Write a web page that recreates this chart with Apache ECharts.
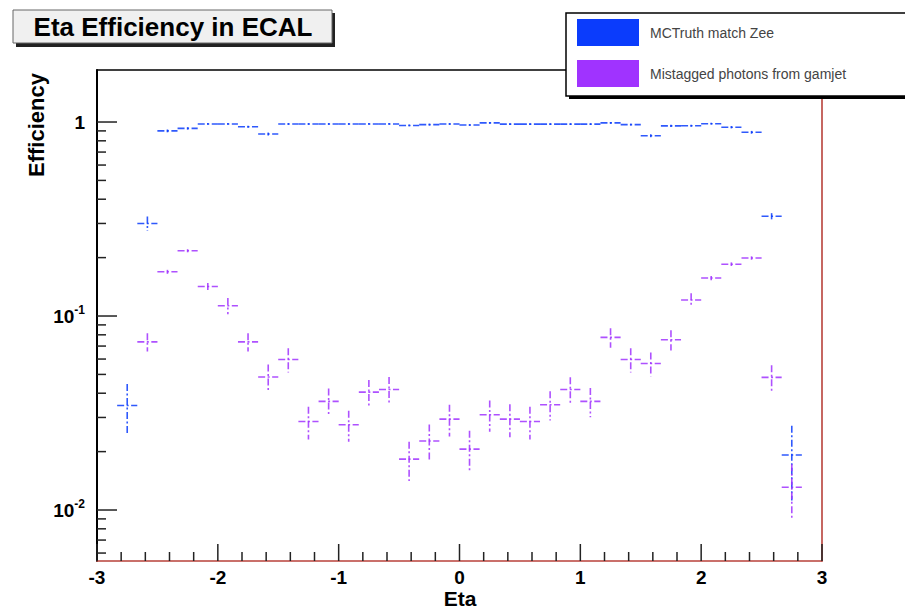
<!DOCTYPE html>
<html><head><meta charset="utf-8">
<script src="https://cdn.jsdelivr.net/npm/echarts@6/dist/echarts.min.js"></script>
<style>html,body{margin:0;padding:0;background:#fff}#c{width:905px;height:610px}</style>
</head><body><div id="c"></div>
<script>
// ---- data (bin centres in eta, bin width 1/6) ----
const etaCenters = [-2.75,-2.583,-2.417,-2.25,-2.083,-1.917,-1.75,-1.583,-1.417,-1.25,-1.083,-0.917,-0.75,-0.583,-0.417,-0.25,-0.083,
  0.083,0.25,0.417,0.583,0.75,0.917,1.083,1.25,1.417,1.583,1.75,1.917,2.083,2.25,2.417,2.583,2.75];
const binHalfWidth = 0.0833;
const mcTruthEff = [0.0346,0.30,0.90,0.927,0.977,0.977,0.945,0.867,0.977,0.977,0.977,0.977,0.977,0.977,0.96,0.97,0.977,
  0.965,0.99,0.975,0.975,0.975,0.975,0.975,0.99,0.97,0.85,0.955,0.957,0.98,0.94,0.885,0.327,0.0192];
const mcTruthErr = [0.010,0.026,0.015,0.013,0.010,0.010,0.012,0.015,0.010,0.010,0.010,0.010,0.010,0.010,0.010,0.010,0.010,
  0.010,0.010,0.010,0.010,0.010,0.010,0.010,0.010,0.010,0.015,0.012,0.012,0.010,0.013,0.015,0.012,0.008];
const gamjetEff = [null,0.0736,0.169,0.217,0.142,0.113,0.0736,0.0485,0.0597,0.0286,0.0363,0.0275,0.0405,0.0418,0.0183,0.0227,0.0294,
  0.0206,0.031,0.0294,0.0286,0.0349,0.0418,0.0363,0.0776,0.0597,0.0569,0.0754,0.121,0.157,0.185,0.199,0.0483,0.0131];
const gamjetErr = [null,0.008,0.004,0.004,0.006,0.011,0.008,0.0078,0.0085,0.0055,0.006,0.005,0.0063,0.0067,0.0042,0.0049,0.0055,
  0.005,0.0057,0.0057,0.0055,0.006,0.0065,0.0062,0.009,0.0085,0.008,0.009,0.010,0.004,0.004,0.004,0.0075,0.0041];
const seriesNames = ['MCTruth match Zee','Mistagged photons from gamjet'];
const seriesColors = ['#0b3cfc','#a033ff'];
const xMajorTicks = [-3,-2,-1,0,1,2,3];
const xMinorTicks = [-2.8,-2.6,-2.4,-2.2,-1.8,-1.6,-1.4,-1.2,-0.8,-0.6,-0.4,-0.2,0.2,0.4,0.6,0.8,1.2,1.4,1.6,1.8,2.2,2.4,2.6,2.8];
const yMajorTicks = [0.01,0.1,1];
const yMinorTicks = [0.006,0.007,0.008,0.009,0.02,0.03,0.04,0.05,0.06,0.07,0.08,0.09,0.2,0.3,0.4,0.5,0.6,0.7,0.8,0.9];
const xMin = -3, xMax = 3;
const yMin = 0.00546, yMax = 1.854;
const FONT = 'Liberation Sans, Arial, Helvetica, sans-serif';

function toData(eff, err){
  const out = [];
  etaCenters.forEach((e,i)=>{ if(eff[i]!=null) out.push([e, eff[i], err[i]]); });
  return out;
}
function makeRender(color){
  return function(params, api){
    const x = api.value(0), y = api.value(1), e = api.value(2);
    const c = api.coord([x, y]);
    const l = api.coord([x - binHalfWidth, y]);
    const r = api.coord([x + binHalfWidth, y]);
    const t = api.coord([x, y + e]);
    const b = api.coord([x, Math.max(y - e, yMin)]);
    const st = {stroke: color, lineWidth: 1.6, opacity: 0.85, lineDash:[7,2.5,2,2.5]};
    return {type:'group', children:[
      {type:'line', shape:{x1:l[0], y1:c[1], x2:r[0], y2:c[1]}, style:st},
      {type:'line', shape:{x1:c[0], y1:t[1], x2:c[0], y2:b[1]}, style:st}
    ]};
  };
}
// tick marks (decoration) placed through the axes' own scales
const tickData = [];
xMajorTicks.forEach(v=>tickData.push([v, yMin, 0, 17]));
xMinorTicks.forEach(v=>tickData.push([v, yMin, 0, 9]));
yMajorTicks.forEach(v=>tickData.push([xMin, v, 1, 20]));
yMinorTicks.forEach(v=>tickData.push([xMin, v, 1, 9]));
function renderTick(params, api){
  const p = api.coord([api.value(0), api.value(1)]);
  const kind = api.value(2), len = api.value(3);
  const shape = kind === 0 ? {x1:p[0], y1:p[1], x2:p[0], y2:p[1]-len} : {x1:p[0], y1:p[1], x2:p[0]+len, y2:p[1]};
  return {type:'line', shape:shape, style:{stroke:'#222', lineWidth:1.5}};
}

const chart = echarts.init(document.getElementById('c'), null, {renderer:'svg'});
chart.setOption({
  backgroundColor:'#fff',
  animation:false,
  grid:{left:97, right:83, top:70, bottom:49, containLabel:false, outerBoundsMode:'none'},
  legend:{
    orient:'vertical', left:577, top:19, itemWidth:62, itemHeight:27, itemGap:14, padding:0, z:20,
    icon:'rect', selectedMode:false,
    data:seriesNames,
    textStyle:{fontFamily:FONT, fontSize:14, color:'#444', padding:[0,0,0,6]}
  },
  xAxis:[{
    type:'value', min:xMin, max:xMax, interval:1, position:'bottom',
    axisLine:{onZero:false, lineStyle:{color:'#b8413a', width:1.6}},
    axisTick:{show:false},
    splitLine:{show:false},
    axisLabel:{margin:7, fontFamily:FONT, fontWeight:'bold', fontSize:19, color:'#000',
      showMinLabel:true, showMaxLabel:true}
  },{
    type:'value', min:xMin, max:xMax, position:'top',
    axisLine:{onZero:false, lineStyle:{color:'#000', width:1.6}},
    axisTick:{show:false}, axisLabel:{show:false}, splitLine:{show:false}
  }],
  yAxis:[{
    type:'log', min:yMin, max:yMax, position:'left',
    axisLine:{onZero:false, lineStyle:{color:'#000', width:2}},
    axisTick:{show:false},
    splitLine:{show:false},
    axisLabel:{margin:12, color:'#000', customValues:yMajorTicks,
      formatter:function(v){
        const p = Math.round(Math.log10(v));
        if(p===0) return '{a|1}';
        return '{a|10}{b|' + p + '}';
      },
      rich:{
        a:{fontFamily:FONT, fontWeight:'bold', fontSize:19, lineHeight:24, color:'#000'},
        b:{fontFamily:FONT, fontWeight:'bold', fontSize:12, lineHeight:12, verticalAlign:'top', color:'#000'}
      }
    }
  },{
    type:'log', min:yMin, max:yMax, position:'right',
    axisLine:{onZero:false, lineStyle:{color:'#b8413a', width:1.6}},
    axisTick:{show:false}, axisLabel:{show:false}, splitLine:{show:false}
  }],
  series:[{
    name:seriesNames[0], type:'custom', xAxisIndex:0, yAxisIndex:0,
    itemStyle:{color:seriesColors[0]},
    renderItem:makeRender(seriesColors[0]),
    encode:{x:0, y:1},
    data:toData(mcTruthEff, mcTruthErr), z:3
  },{
    name:seriesNames[1], type:'custom', xAxisIndex:0, yAxisIndex:0,
    itemStyle:{color:seriesColors[1]},
    renderItem:makeRender(seriesColors[1]),
    encode:{x:0, y:1},
    data:toData(gamjetEff, gamjetErr), z:3
  },{
    name:'ticks', type:'custom', xAxisIndex:0, yAxisIndex:0, silent:true,
    renderItem:renderTick, encode:{x:0, y:1}, data:tickData, z:4
  }],
  graphic:[
    {type:'rect', z:10, shape:{x:16, y:13, width:319, height:34}, style:{fill:'#222'}},
    {type:'rect', z:11, shape:{x:13, y:10, width:319, height:33}, style:{fill:'#f0f0f0', stroke:'#666', lineWidth:1}},
    {type:'text', z:12, x:173, y:27, style:{text:'Eta Efficiency in ECAL', font:'bold 26px ' + FONT, fill:'#000', align:'center', verticalAlign:'middle'}},
    {type:'rect', z:10, shape:{x:569, y:16, width:400, height:83}, style:{fill:'#000'}},
    {type:'rect', z:11, shape:{x:566, y:13, width:400, height:83}, style:{fill:'#fff', stroke:'#000', lineWidth:1.5}},
    {type:'text', z:12, x:36, y:125, rotation:Math.PI/2, style:{text:'Efficiency', font:'bold 22px ' + FONT, fill:'#000', align:'center', verticalAlign:'middle'}},
    {type:'text', z:12, x:460, y:598, style:{text:'Eta', font:'bold 21px ' + FONT, fill:'#000', align:'center', verticalAlign:'middle'}}
  ]
});
</script></body></html>
